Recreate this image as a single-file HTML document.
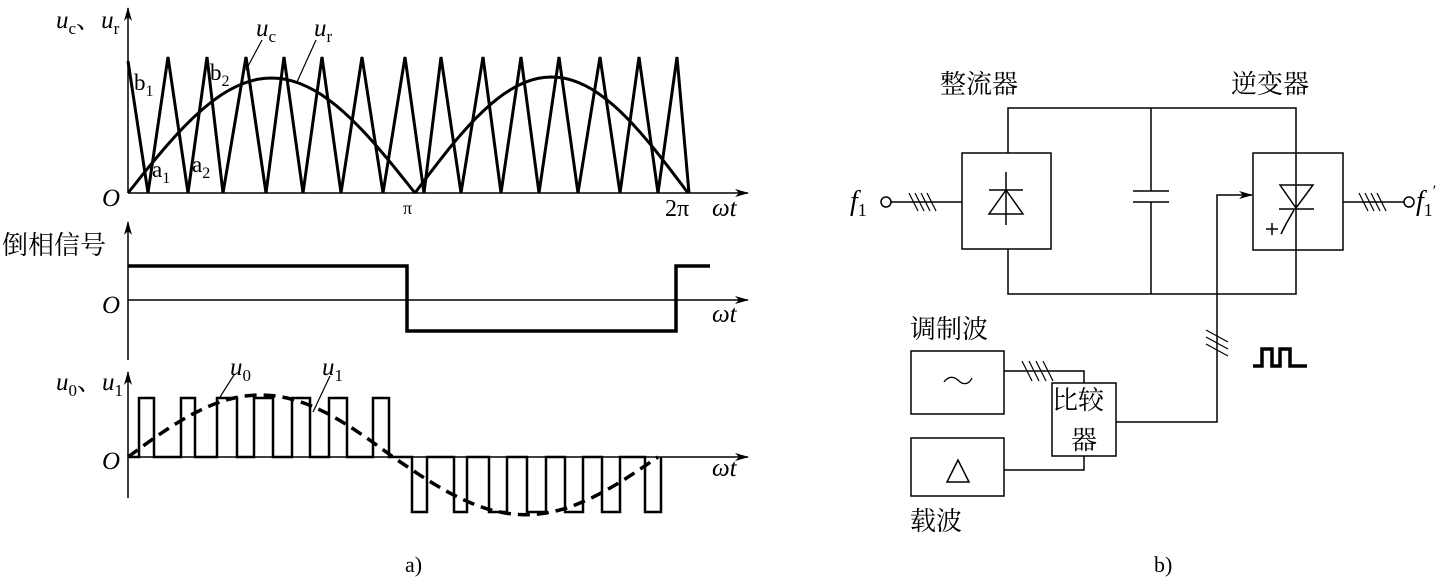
<!DOCTYPE html>
<html><head><meta charset="utf-8">
<style>
html,body{margin:0;padding:0;background:#fff;}
svg{display:block;}
text{font-family:"Liberation Serif","Noto Serif CJK SC",serif;fill:#000;}
.cj{font-family:"Liberation Sans","Noto Sans CJK SC",sans-serif;}
</style></head>
<body>
<svg id="s" width="1442" height="580" viewBox="0 0 1442 580" xmlns="http://www.w3.org/2000/svg">
<defs><marker id="ar" markerWidth="14" markerHeight="8" refX="13" refY="4" orient="auto" markerUnits="userSpaceOnUse"><path d="M0,0 L14,4 L0,8 L4,4 z" fill="#000"/></marker></defs>
<g stroke="#000" fill="none" stroke-width="1.5">
<line x1="128" y1="193" x2="128" y2="8" marker-end="url(#ar)"/>
<line x1="128" y1="193" x2="748" y2="193" marker-end="url(#ar)"/>
<path id="tri" stroke-width="3" d=""/>
<path id="sin1" stroke-width="3" d=""/>
<line x1="128" y1="360" x2="128" y2="222" marker-end="url(#ar)"/>
<line x1="128" y1="300" x2="748" y2="300" marker-end="url(#ar)"/>
<path stroke-width="3.5" d="M128,266 H407 V331 H676 V266 H710"/>
<line x1="128" y1="498" x2="128" y2="372" marker-end="url(#ar)"/>
<line x1="128" y1="457" x2="748" y2="457" marker-end="url(#ar)"/>
<path id="pul" stroke-width="2.5" d=""/>
<path id="sin2" stroke-width="3.5" stroke-dasharray="12,7" d=""/>
<line x1="220" y1="397" x2="234" y2="375" stroke-width="1.2"/>
<line x1="313" y1="412" x2="330" y2="376" stroke-width="1.2"/>
<line x1="246" y1="70" x2="262" y2="40" stroke-width="1.2"/>
<line x1="297" y1="82" x2="316" y2="40" stroke-width="1.2"/>

<rect x="962" y="153" width="89" height="96"/>
<rect x="1253" y="153" width="90" height="97"/>
<path d="M1008,153 V108 H1296 V153 M1008,249 V294 H1296 V250 M1151,108 V191 M1151,202 V294"/>
<line x1="1133" y1="191" x2="1169" y2="191"/>
<line x1="1133" y1="202" x2="1169" y2="202"/>
<line x1="1006" y1="172" x2="1006" y2="225"/>
<line x1="989" y1="190" x2="1023" y2="190"/>
<path d="M1006,190 L989,214 H1023 Z"/>
<line x1="1296" y1="153" x2="1296" y2="250"/>
<path d="M1280,185 H1313 L1296,208 Z"/>
<line x1="1279" y1="209" x2="1314" y2="209"/>
<path d="M1294,210 L1286,224 L1281,234"/>
<line x1="1266" y1="229" x2="1278" y2="229"/><line x1="1272" y1="223" x2="1272" y2="235"/>
<circle cx="886" cy="202" r="5" fill="#fff"/>
<line x1="891" y1="202" x2="962" y2="202"/>
<path d="M909,193 L918,211 M915,193 L924,211 M921,193 L930,211 M927,193 L936,211" stroke-width="1.2"/>
<line x1="1343" y1="202" x2="1404" y2="202"/>
<circle cx="1409" cy="202" r="5" fill="#fff"/>
<path d="M1359,193 L1368,211 M1365,193 L1374,211 M1371,193 L1380,211 M1377,193 L1386,211" stroke-width="1.2"/>
<path d="M1116,422 H1217 V195 H1252" marker-end="url(#ar)"/>
<path d="M1206,330 L1228,342 M1206,337 L1228,349 M1206,344 L1228,356" stroke-width="1.2"/>
<path d="M1253,366 H1262 V349 H1272 V366 H1280 V349 H1290 V366 H1307" stroke-width="3.5"/>
<rect x="911" y="351" width="93" height="63"/>
<rect x="911" y="438" width="93" height="58"/>
<rect x="1052" y="383" width="64" height="73"/>
<path d="M1004,371 H1084 V383 M1004,470 H1084 V456"/>
<path d="M1022,361 L1032,381 M1029,361 L1039,381 M1036,361 L1046,381 M1043,361 L1053,381" stroke-width="1.2"/>
<path d="M944,382 C950,374 956,378 959,381 C962,384 968,386 972,378" stroke-width="1.3"/>
<path d="M958,460 L947,482 H969 Z"/>
</g>
<g font-style="italic" font-size="25">
<text x="56" y="28">u<tspan font-size="17" dy="6" font-style="normal">c</tspan><tspan dy="-6" font-style="normal">、</tspan>u<tspan font-size="17" dy="6" font-style="normal">r</tspan></text>
<text x="256" y="36">u<tspan font-size="17" dy="6" font-style="normal">c</tspan></text>
<text x="314" y="36">u<tspan font-size="17" dy="6" font-style="normal">r</tspan></text>
<text x="102" y="206">O</text>
<text x="102" y="313">O</text>
<text x="102" y="469">O</text>
<text x="712" y="216">ωt</text>
<text x="712" y="322">ωt</text>
<text x="712" y="476">ωt</text>
<text x="56" y="390">u<tspan font-size="17" dy="6" font-style="normal">0</tspan><tspan dy="-6" font-style="normal">、</tspan>u<tspan font-size="17" dy="6" font-style="normal">1</tspan></text>
<text x="230" y="375">u<tspan font-size="17" dy="6" font-style="normal">0</tspan></text>
<text x="322" y="375">u<tspan font-size="17" dy="6" font-style="normal">1</tspan></text>
<text x="850" y="210" font-size="28">f<tspan font-size="18" dy="6" font-style="normal">1</tspan></text>
<text x="1416" y="210" font-size="28">f<tspan font-size="18" dy="6" font-style="normal">1</tspan><tspan font-size="16" dy="-20" font-style="normal">′</tspan></text>
</g>
<g font-size="23">
<text x="134" y="90">b<tspan font-size="16" dy="6">1</tspan></text>
<text x="210" y="80">b<tspan font-size="16" dy="6">2</tspan></text>
<text x="152" y="177">a<tspan font-size="16" dy="6">1</tspan></text>
<text x="192" y="172">a<tspan font-size="16" dy="6">2</tspan></text>
<text x="403" y="214" font-size="18">π</text>
<text x="665" y="216" font-size="24">2π</text>
<text x="405" y="572" font-size="22">a)</text>
<text x="1154" y="572" font-size="22">b)</text>
</g>
<g class="cj" font-size="26">
<text x="2" y="254" font-size="26">倒相信号</text>
<text x="940" y="93">整流器</text>
<text x="1231" y="93">逆变器</text>
<text x="910" y="338">调制波</text>
<text x="910" y="530">载波</text>
<text x="1052" y="409">比较</text>
<text x="1071" y="449">器</text>
</g>
</svg>
<script>
(function(){
var tops=[128,168,207,246,284,322,362,405,441,483,521,559,600,639,677];
var bots=[148,188,223,266,303,341,383,424,461,501,539,578,620,658,689];
var d="M128,61";
for(var i=0;i<bots.length;i++){d+=" L"+bots[i]+",193";if(i+1<tops.length)d+=" L"+tops[i+1]+",57";}
document.getElementById("tri").setAttribute("d",d);
function half(x0,x1,base,A){var s="";for(var k=0;k<=40;k++){var x=x0+(x1-x0)*k/40;var y=base-A*Math.sin(Math.PI*k/40);s+=(k==0?"M":" L")+x.toFixed(1)+","+y.toFixed(1);}return s;}
document.getElementById("sin1").setAttribute("d",half(128,415,193,115)+" "+half(415,688,193,116));
var s2="";for(var k=0;k<=80;k++){var x=128+(658-128)*k/80;var y=457-62*Math.sin(2*Math.PI*k/80)*(k<=40?1:0.93);s2+=(k==0?"M":" L")+x.toFixed(1)+","+y.toFixed(1);}
document.getElementById("sin2").setAttribute("d",s2);
var P=[[139,154],[181,195],[217,237],[254,273],[292,310],[329,347],[373,389]];
var N=[[412,427],[454,467],[489,507],[527,546],[565,583],[602,620],[645,661]];
var p="M128,457";
P.forEach(function(a){p+=" H"+a[0]+" V398 H"+a[1]+" V457";});
N.forEach(function(a){p+=" H"+a[0]+" V512 H"+a[1]+" V457";});
document.getElementById("pul").setAttribute("d",p);
})();
</script>
</body></html>
